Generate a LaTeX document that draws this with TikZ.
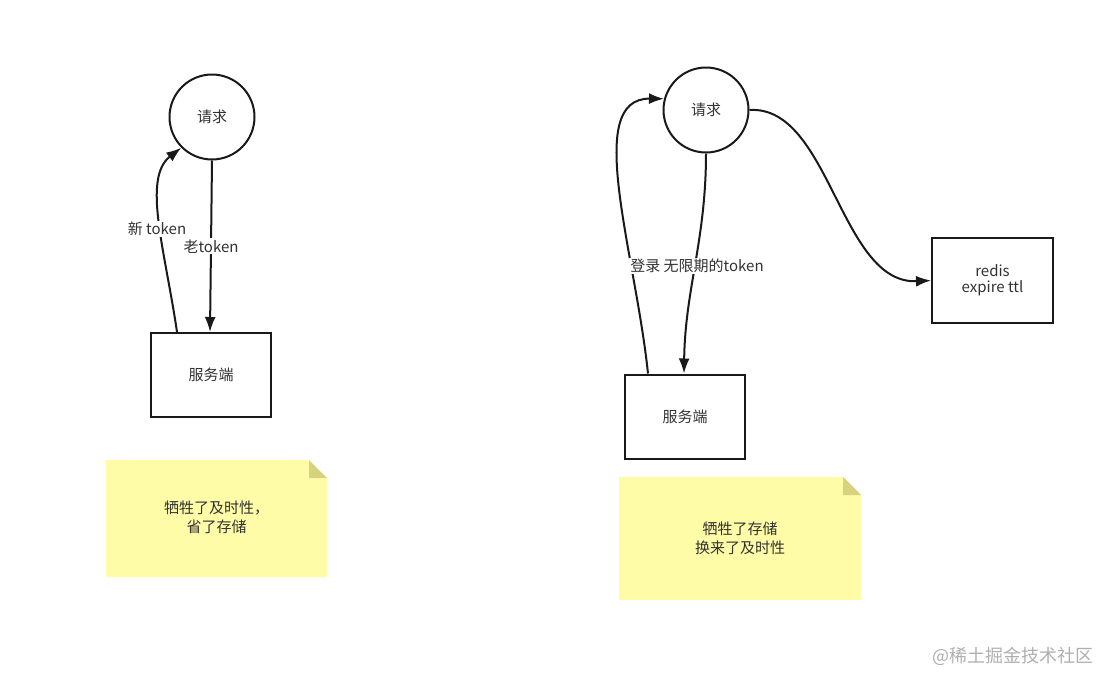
\documentclass[tikz,border=0pt]{standalone}
\usepackage{fontspec}
\setmainfont{Noto Sans CJK SC}
\usetikzlibrary{arrows.meta,calc}
\definecolor{ink}{RGB}{25,25,25}
\definecolor{txt}{RGB}{50,50,50}
\definecolor{notefill}{RGB}{255,252,168}
\definecolor{notefold}{RGB}{214,210,128}
\definecolor{wm}{RGB}{175,175,175}
\tikzset{
  reqcircle/.style={circle,draw=ink,line width=2pt,minimum size=85pt,inner sep=0pt,text=txt,font=\fontsize{15}{18}\selectfont},
  srvbox/.style={rectangle,draw=ink,line width=2pt,minimum width=120pt,minimum height=84pt,inner sep=0pt,text=txt,font=\fontsize{15}{18}\selectfont,align=center},
  conn/.style={draw=ink,line width=2pt,-{Latex[length=15pt,width=11pt]}},
  lbl/.style={fill=white,inner sep=1pt,text=txt,font=\fontsize{15}{18}\selectfont},
  notebox/.style={rectangle,inner sep=0pt,text=txt,align=center,font=\fontsize{15}{19}\selectfont},
}
\begin{document}
\begin{tikzpicture}[x=1pt,y=-1pt]
\useasboundingbox (0,0) rectangle (1112,686);
% ---------- left ----------
\node[reqcircle] (req1) at (212,117) {请求};
\node[srvbox] (srv1) at (211,375) {服务端};
\coordinate (s1a) at ($(srv1.north west)+(27,0)$);
\coordinate (s1b) at ($(srv1.north west)+(60,0)$);
\coordinate (r1l) at (req1.225);
\draw[conn] (req1.south) -- (s1b) node[lbl,pos=0.5] {老token};
\draw[conn] (s1a) .. controls (165,250) and (142,178) .. (r1l);
\node[lbl] (lab1) at (157,229) {新 token};
% note left
\fill[notefill] (106,460) -- (309,460) -- (327,478) -- (327,577) -- (106,577) -- cycle;
\fill[notefold] (309,460) -- (327,478) -- (309,478) -- cycle;
\node[notebox] (note1) at (216.5,517) {牺牲了及时性，\\省了存储};
% ---------- right ----------
\node[reqcircle] (req2) at (706,110) {请求};
\node[srvbox] (srv2) at (685,416.5) {服务端};
\node[srvbox,minimum width=121pt,minimum height=85pt] (redis) at (992.5,280.5) {redis\\[-2pt]expire ttl};
\coordinate (s2a) at ($(srv2.north west)+(24,0)$);
\coordinate (s2b) at ($(srv2.north west)+(60,0)$);
\coordinate (r2w) at (req2.165);
\draw[conn] (req2.south) .. controls (706,240) and (685,290) .. (s2b);
\draw[conn] (s2a) .. controls (635,250) and (583,98) .. (r2w);
\draw[conn] (req2.east) .. controls (830,105) and (840,285) .. (redis.west);
\node[lbl] (lab2) at (697,266) {登录 无限期的token};
% note right
\fill[notefill] (619,477) -- (843,477) -- (861,495) -- (861,600) -- (619,600) -- cycle;
\fill[notefold] (843,477) -- (861,495) -- (843,495) -- cycle;
\node[notebox] (note2) at (740,538) {牺牲了存储\\换来了及时性};
% watermark
\node[text=wm,font=\fontsize{18}{20}\selectfont,inner sep=0pt] (wmk) at (1013,656) {@稀土掘金技术社区};
\end{tikzpicture}
\end{document}
